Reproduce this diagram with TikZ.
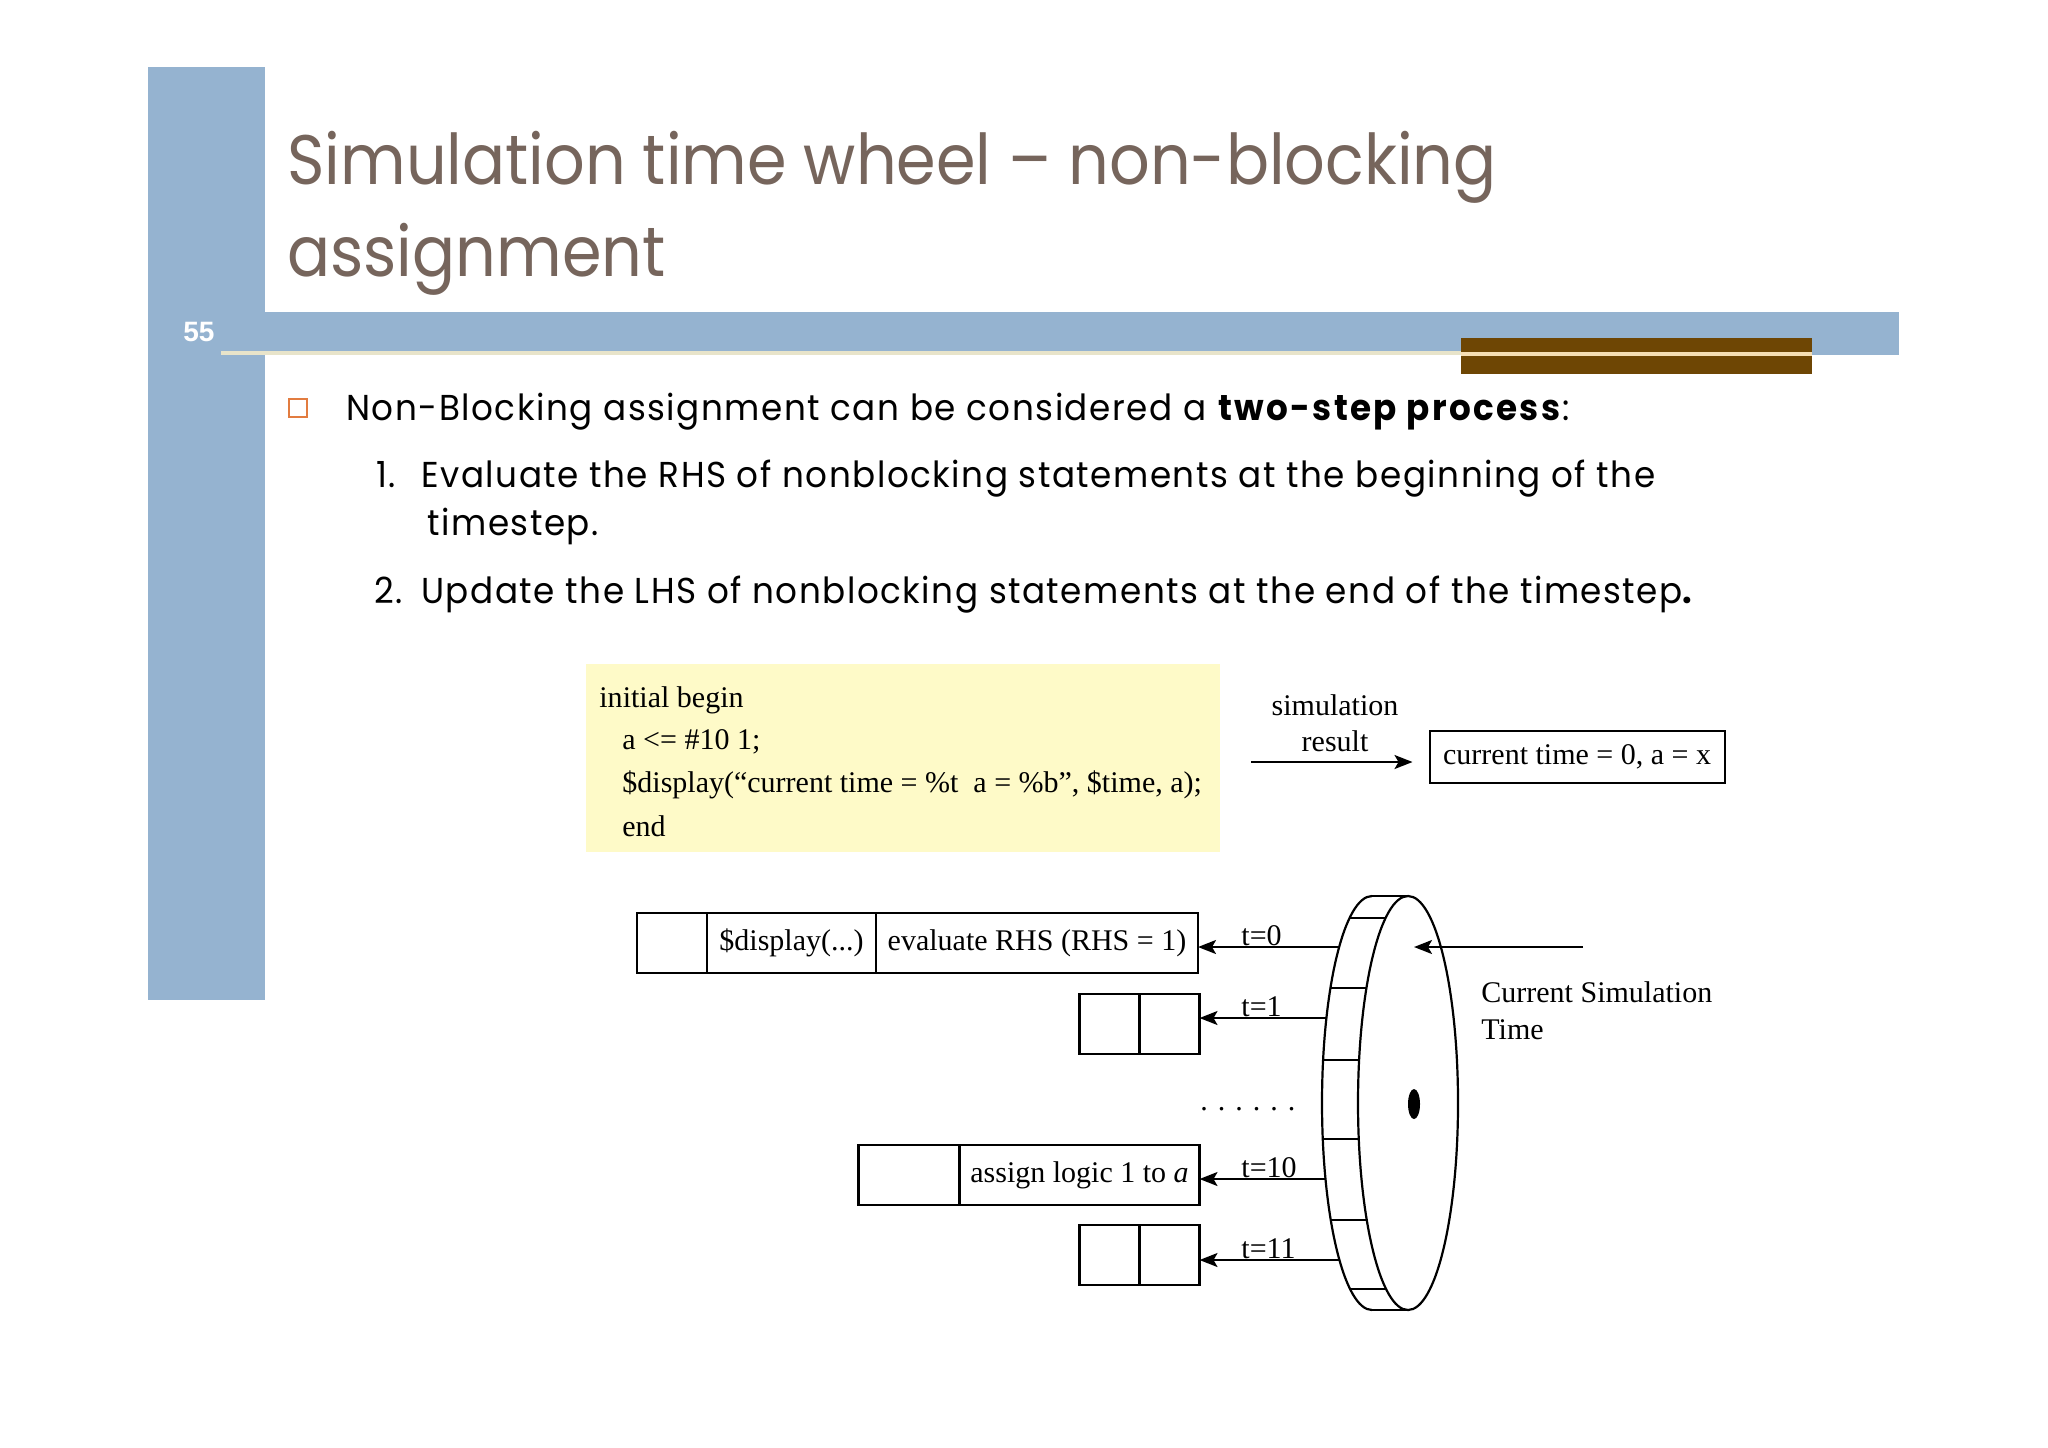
\documentclass[tikz,border=0pt]{standalone}
\usepackage{fontspec}
\setmainfont{Liberation Serif}
\newfontfamily\titlefont[FakeStretch=0.91]{Poppins}
\newfontfamily\bodyfont[FakeStretch=0.95,LetterSpace=4.2,BoldFeatures={LetterSpace=6.5}]{Poppins}
\newfontfamily\numfont{Liberation Sans}
\newfontfamily\codefont{Liberation Serif}
\usetikzlibrary{arrows.meta,calc,shapes.geometric}
\definecolor{slideblue}{RGB}{149,179,208}
\definecolor{slidebrown}{RGB}{110,70,4}
\definecolor{creamline}{RGB}{232,228,202}
\definecolor{creambrown}{RGB}{245,222,180}
\definecolor{titlecol}{RGB}{118,101,92}
\definecolor{bulletcol}{RGB}{226,124,64}
\definecolor{codeyellow}{RGB}{254,250,200}
\begin{document}
\begin{tikzpicture}[x=0.5pt,y=-0.5pt,
  tms/.style={font=\codefont\fontsize{15}{18}\selectfont, inner sep=0pt},
  ttl/.style={font=\titlefont\fontsize{35}{42}\selectfont, text=titlecol, inner sep=0pt, anchor=base west},
  bdy/.style={font=\bodyfont\fontsize{18}{22}\selectfont, inner sep=0pt, anchor=base west},
  cell/.style={draw, line width=1.1pt, minimum height=30pt, inner sep=0pt, outer sep=0pt, anchor=north west, font=\codefont\fontsize{15}{18}\selectfont},
  arr/.style={-{Stealth[length=9pt,width=7pt,inset=2pt]}, line width=1pt},
  wheelline/.style={line width=1.1pt},
  lbl/.style={tms, anchor=base west}
]
\useasboundingbox (0,0) rectangle (2048,1447);
\fill[white] (0,0) rectangle (2048,1447);

% slide decoration
\fill[slideblue] (148,67) rectangle (265,1000);
\fill[slideblue] (265,312) rectangle (1899,355);
\fill[slidebrown] (1461,338) rectangle (1812,374);
\fill[creamline] (221,351) rectangle (1461,355);
\fill[creambrown] (1461,352) rectangle (1812,356);
\node[font=\numfont\bfseries\fontsize{14}{16}\selectfont, text=white, inner sep=0pt] (pg) at (199,332) {55};

% title
\node[ttl] (t1) at (287,184) {Simulation time wheel – non-blocking};
\node[ttl] (t2) at (287,276) {assignment};

% body
\node[draw=bulletcol, line width=1pt, minimum size=9pt, inner sep=0pt, anchor=south west] (bul) at (288,418) {};
\node[bdy] (b1) at (346,420) {Non-Blocking assignment can be considered a \textbf{two-step process}:};
\node[bdy] (n1) at (376,487) {1.};
\node[bdy] (e1) at (421,487) {Evaluate the RHS of nonblocking statements at the beginning of the};
\node[bdy] (e1b) at (427,535) {timestep.};
\node[bdy] (n2) at (374,603) {2.};
\node[bdy] (e2) at (421,603) {Update the LHS of nonblocking statements at the end of the timestep\textbf{.}};

% code box
\node[fill=codeyellow, minimum width=317pt, minimum height=94pt, anchor=north west, inner sep=0pt] (code) at (586,664) {};
\node[lbl] (c1) at (599,707) {initial begin};
\node[lbl] (c2) at (622,749) {a <= \#10 1;};
\node[lbl] (c3) at (622,792) {\$display(“current time = \%t\ \ a = \%b”, \$time, a);};
\node[lbl] (c4) at (622,836) {end};

% simulation result
\node[tms, anchor=base] (sim) at (1335,715) {simulation};
\node[tms, anchor=base] (res) at (1335,751) {result};
\node[draw, line width=1.1pt, minimum width=147.5pt, minimum height=26pt, anchor=north west, tms] (rbox) at (1428.5,729.5) {current time = 0, a = x};
\coordinate (sr) at (1251,762);
\draw[arr, shorten >=8pt] (sr) -- (sr -| rbox.west);

% event queues
\node[cell, minimum width=35pt] (r0a) at (637,913) {};
\node[cell, minimum width=84.5pt] (r0b) at (r0a.north east) {\$display(...)};
\node[cell, minimum width=161pt] (r0c) at (r0b.north east) {evaluate RHS (RHS = 1)};

\node[cell, minimum width=30pt] (r1a) at (1079.5,994) {};
\node[cell, minimum width=30pt] (r1b) at (r1a.north east) {};

\node[cell, minimum width=50.5pt] (r10a) at (858.5,1145) {};
\node[cell, minimum width=120pt] (r10b) at (r10a.north east) {assign logic 1 to \textit{a}};

\node[cell, minimum width=30pt] (r11a) at (1079.5,1225) {};
\node[cell, minimum width=30pt] (r11b) at (r11a.north east) {};

% wheel
\draw[wheelline] (1372,1310) arc[start angle=90, end angle=270, x radius=50, y radius=207];
\draw[wheelline] (1372,896) -- (1408,896);
\draw[wheelline] (1372,1310) -- (1408,1310);
\node[draw, wheelline, ellipse, minimum width=50pt, minimum height=207pt, inner sep=0pt] (wheel) at (1408,1103) {};
\foreach \ya/\xa/\xb in {918/1349.6/1385.6, 988/1330.4/1366.4, 1060/1323.1/1359.1, 1139/1322.8/1358.8, 1220/1330.8/1366.8, 1289/1350.1/1386.1}
  \draw[wheelline] (\xa,\ya) -- (\xb,\ya);
\node[fill, ellipse, minimum width=6pt, minimum height=15pt, inner sep=0pt] (hub) at (1414,1104) {};

% time slot arrows
\coordinate (w0) at (1339,947);
\coordinate (w1) at (1326.4,1018);
\coordinate (w10) at (1325.5,1179);
\coordinate (w11) at (1339.4,1260);
\draw[arr] (w0) -- (w0 -| r0c.east);
\draw[arr] (w1) -- (w1 -| r1b.east);
\draw[arr] (w10) -- (w10 -| r10b.east);
\draw[arr] (w11) -- (w11 -| r11b.east);
\node[lbl] (l0) at (1241,945) {t=0};
\node[lbl] (l1) at (1241,1016) {t=1};
\node[lbl] (l10) at (1241,1177) {t=10};
\node[lbl] (l11) at (1241,1258) {t=11};
\node[lbl] (dots) at (1200,1110) {.\hspace{5pt}.\hspace{5pt}.\hspace{5pt}.\hspace{5pt}.\hspace{5pt}.};

% current simulation time
\coordinate (cs) at (1583,947);
\draw[arr] (cs) -- (cs -| hub);
\node[lbl] (cst1) at (1481,1002) {Current Simulation};
\node[lbl] (cst2) at (1481,1039) {Time};
\end{tikzpicture}
\end{document}
